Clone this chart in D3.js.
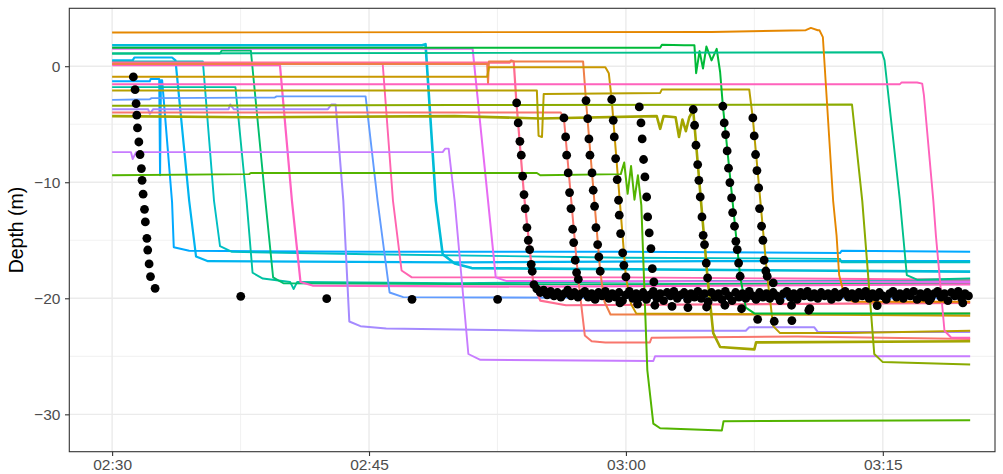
<!DOCTYPE html>
<html><head><meta charset="utf-8">
<script src="https://cdn.jsdelivr.net/npm/d3@7"></script>
<style>
body{margin:0;background:#fff}
svg{display:block;font-family:"Liberation Sans",Arial,Helvetica,sans-serif}
</style>
</head><body>
<svg id="chart" width="1003" height="474"></svg>
<script>
// ---------- axis ticks ----------
const xTickLabels = ["02:30", "02:45", "03:00", "03:15"];
const xMinorLabels = ["02:37:30", "02:52:30", "03:07:30"];
const yTickValues = [-30, -20, -10, 0];
const yMinorValues = [-25, -15, -5];
const yTitle = "Depth (m)";

// ---------- depth traces: [minutes after 02:30, depth m] ----------
const tag01 = [[0,-1.3],[2.2,-1.3],[2.25,-1.1],[2.75,-1.1],[2.8,-9.4],[2.85,-1.2],[2.92,-1.2],[3.5,-11.7],[3.6,-15.6],[4.5,-15.9],[15,-16.0],[30,-16.0],[42.5,-16.1],[42.6,-15.9],[50.1,-16.0]];
const tag02 = [[0,0.5],[1.2,0.5],[1.3,0.75],[3.5,0.75],[3.7,0.5],[4.5,-11.6],[4.9,-16.4],[5.6,-16.8],[20,-16.9],[35,-16.8],[50.1,-16.8]];
const tag03 = [[0,0.4],[5.3,0.4],[5.95,-11.6],[6.3,-15.5],[7.0,-16.0],[15,-16.2],[30,-16.5],[42.5,-16.6],[42.6,-16.9],[50.1,-16.9]];
const tag04 = [[0,-1.8],[7.2,-1.8],[7.85,-11.6],[8.2,-17.8],[8.8,-18.3],[10.4,-18.6],[10.6,-19.2],[10.8,-18.6],[20,-18.7],[35,-18.5],[50.1,-18.5]];
const tag05 = [[0,1.1],[6.3,1.1],[6.4,1.35],[8.1,1.35],[8.95,-11.6],[9.4,-18.2],[10,-18.7],[25,-18.8],[50.1,-18.7]];
const tag06 = [[0,0.1],[9.8,0.1],[10.5,-11.6],[11.0,-18.6],[11.7,-18.9],[25,-19.0],[50.1,-18.8]];
const tag07 = [[0,-3.7],[2.1,-3.7],[2.2,-4.1],[2.4,-3.7],[6.8,-3.7],[6.9,-3.3],[7.1,-3.7],[12.6,-3.7],[12.8,-3.3],[13.05,-3.3],[13.5,-11.6],[13.85,-22.0],[14.5,-22.4],[16,-22.6],[25,-22.8],[37,-22.8],[37.2,-22.5],[41,-22.5],[41.2,-22.9],[50.1,-22.9]];
const tag08 = [[0,-2.9],[2.2,-2.85],[2.3,-2.75],[9.5,-2.7],[9.6,-2.6],[14.8,-2.6],[15.5,-11.6],[16.2,-19.5],[17,-19.9],[35,-20.0],[50.1,-20.0]];
const tag09 = [[0,0.2],[15.8,0.2],[16.4,-11.6],[16.9,-17.6],[17.5,-18.2],[30,-18.2],[50.1,-18.4]];
const tag10 = [[0,1.8],[18.1,1.8],[18.3,1.9],[18.9,-11.6],[19.3,-16.2],[20,-17.0],[21,-17.4],[40,-17.6],[50.1,-17.7]];
const tag11 = [[0,-7.4],[1.1,-7.4],[1.2,-8.0],[1.4,-7.4],[19.3,-7.4],[19.45,-7.1],[19.65,-7.1],[20.0,-11.6],[20.8,-24.8],[21.5,-25.3],[31.6,-25.4],[31.7,-25.0],[50.1,-25.0]];
const tag12 = [[0,1.5],[21.05,1.5],[21.95,-11.6],[22.4,-18.2],[23,-18.5],[50.1,-18.6]];
const tag13 = [[0,0.3],[23.2,0.3],[23.3,0.5],[23.45,0.4],[23.6,-3.0],[24.05,-11.1],[24.6,-18.8],[25.0,-20.2],[26.5,-20.6],[50.1,-20.4]];
const tag14 = [[0,-4.0],[26.2,-4.0],[26.38,-4.5],[27.22,-18.4],[27.6,-23.2],[28.0,-23.7],[28.8,-23.8],[31.4,-23.8],[31.5,-23.4],[40,-23.3],[50.1,-23.5]];
const tag15 = [[0,0.2],[21.9,0.2],[21.95,-1.5],[22.0,0.4],[27.5,0.4],[27.67,-3.0],[28.5,-17.7],[28.75,-20.3],[29.1,-21.4],[40,-21.4],[50.1,-21.3]];
const tag16 = [[0,-0.9],[21.9,-0.9],[22.0,-0.1],[28.8,-0.1],[29.0,-0.6],[29.17,-2.9],[30.0,-18.2],[30.3,-20.5],[30.6,-21.3],[40,-21.4],[50.1,-21.5]];
const tag17 = [[0,-2.1],[24.8,-2.1],[24.9,-6.0],[25.1,-6.1],[25.2,-2.4],[32,-2.3],[32.1,-2.0],[37.2,-2.0],[37.41,-4.5],[38.25,-18.1],[38.6,-22.4],[39.0,-23.0],[43,-23.0],[50.1,-22.8]];
const tag18 = [[0,-4.3],[8,-4.4],[20,-4.3],[25,-4.5],[31.8,-4.3],[32.0,-5.4],[32.2,-4.3],[32.9,-4.4],[33.1,-6.1],[33.3,-4.6],[33.5,-5.6],[33.7,-4.4],[33.93,-3.8],[34.77,-18.3],[35.1,-23.0],[35.5,-24.2],[37.5,-24.4],[37.6,-23.8],[50.1,-23.7]];
const tag19 = [[0,-3.4],[20,-3.35],[43.2,-3.3],[43.8,-11.6],[44.5,-24.8],[45,-25.5],[50.1,-25.7]];
const tag20 = [[0,-9.4],[8,-9.3],[8.1,-9.2],[24.8,-9.2],[25,-9.4],[29.7,-9.3],[29.9,-8.3],[30.1,-11.0],[30.3,-8.6],[30.5,-11.5],[30.7,-9.4],[30.9,-12],[31.25,-26.2],[31.6,-30.8],[32.0,-31.2],[35.6,-31.4],[35.7,-30.6],[50.1,-30.5]];
const tag21 = [[0,1.6],[32.0,1.6],[32.1,1.85],[33.4,1.8],[34.0,1.8],[34.1,-0.6],[34.3,1.3],[34.5,-0.2],[34.7,1.7],[35.0,0.5],[35.3,1.5],[35.5,-0.5],[35.66,-3.4],[36.67,-18.1],[37.0,-20.8],[37.5,-21.3],[50.1,-21.3]];
const tag22 = [[0,1.1],[44.95,1.2],[45.1,0.5],[46.0,-11.6],[46.2,-14.8],[46.4,-18.0],[47.0,-18.4],[50.1,-18.3]];
const tag23 = [[0,-1.55],[46.0,-1.55],[46.1,-1.4],[47.0,-1.4],[47.3,-1.5],[47.4,-2.5],[47.95,-11.6],[48.1,-14.6],[48.6,-22.8],[49.0,-23.4],[50.1,-23.4]];
const tag24 = [[0,2.9],[35,2.95],[40.5,3.1],[40.8,3.3],[41.2,3.1],[41.3,3.1],[41.5,2.5],[42.1,-11.6],[42.3,-14.6],[42.45,-18.0],[42.8,-20.0],[43.3,-20.3],[50.1,-20.3]];

const tagNames = ["T01","T02","T03","T04","T05","T06","T07","T08","T09","T10","T11","T12","T13","T14","T15","T16","T17","T18","T19","T20","T21","T22","T23","T24"];
const tagSeries = [tag01,tag02,tag03,tag04,tag05,tag06,tag07,tag08,tag09,tag10,tag11,tag12,tag13,tag14,tag15,tag16,tag17,tag18,tag19,tag20,tag21,tag22,tag23,tag24];

// ---------- reference depth points (black dots) ----------
const dotsDrop1 = [[1.24,-0.92],[1.34,-2.01],[1.40,-3.22],[1.44,-4.22],[1.48,-5.32],[1.56,-6.53],[1.63,-7.61],[1.71,-8.82],[1.75,-9.83],[1.81,-11.03],[1.89,-12.33],[1.94,-13.42],[2.03,-14.83],[2.08,-15.84],[2.16,-17.04],[2.24,-18.13],[2.51,-19.14]];
const dotsSparse = [[7.51,-19.83],[12.53,-20.03],[17.51,-20.09],[22.51,-20.09]];
const dotsDrop2 = [[23.62,-3.16],[23.71,-4.89],[23.81,-6.47],[23.89,-7.67],[23.97,-9.48],[24.05,-11.06],[24.12,-12.27],[24.22,-13.91],[24.30,-15.0],[24.38,-15.8],[24.47,-17.07],[24.53,-17.67],[24.63,-18.82]];
const dotsDrop3 = [[26.38,-4.46],[26.48,-6.09],[26.54,-7.67],[26.63,-9.2],[26.71,-10.89],[26.79,-12.27],[26.89,-14.05],[26.95,-15.2],[27.04,-16.72],[27.12,-17.78],[27.22,-18.36]];
const dotsDrop4 = [[27.67,-2.96],[27.77,-4.51],[27.84,-6.27],[27.90,-7.67],[28.02,-9.2],[28.09,-10.69],[28.17,-12.07],[28.25,-13.91],[28.35,-15.37],[28.42,-16.44],[28.50,-17.67]];
const dotsDrop5 = [[29.17,-2.87],[29.26,-4.66],[29.32,-6.09],[29.40,-7.96],[29.49,-9.77],[29.57,-11.55],[29.61,-12.84],[29.69,-14.42],[29.81,-16.09],[29.88,-17.16],[30.0,-18.16]];
const dotsDrop6 = [[30.78,-3.51],[30.88,-4.89],[30.95,-6.27],[31.03,-8.04],[31.11,-9.54],[31.21,-11.27],[31.27,-12.99],[31.36,-14.37],[31.46,-15.72],[31.54,-17.44],[31.63,-18.59]];
const dotsDrop7 = [[33.93,-3.73],[34.01,-5.09],[34.09,-6.81],[34.19,-8.48],[34.26,-9.83],[34.34,-11.27],[34.44,-12.99],[34.51,-14.57],[34.59,-15.37],[34.69,-16.96],[34.77,-18.25]];
const dotsDrop8 = [[35.66,-3.45],[35.74,-4.89],[35.82,-5.89],[35.91,-7.3],[35.99,-8.79],[36.07,-10.03],[36.17,-11.35],[36.23,-12.61],[36.34,-13.79],[36.42,-15.09],[36.5,-15.8],[36.58,-16.96],[36.67,-18.1]];
const dotsDrop9 = [[37.41,-4.46],[37.49,-6.01],[37.57,-7.61],[37.65,-8.99],[37.75,-10.49],[37.80,-12.27],[37.92,-13.79],[38.0,-15.0],[38.07,-16.72],[38.17,-17.65],[38.25,-18.1],[38.6,-18.68]];
const dotsLow = [[37.69,-21.81],[38.66,-21.98],[39.69,-21.92],[40.68,-21.03],[44.67,-20.63],[29.65,-20.4],[30.68,-20.5],[31.69,-20.6],[32.69,-20.7],[33.62,-20.8],[34.71,-20.75],[35.78,-20.6],[36.75,-20.9],[39.67,-20.6],[40.74,-20.9],[47.7,-20.2],[49.67,-20.4]];
const dotsBottom = [
[24.8,-19.2],[25.0,-19.5],[25.2,-19.3],[25.4,-19.7],[25.6,-19.4],[25.8,-19.8],[26.0,-19.5],[26.2,-19.9],[26.4,-19.6],[26.6,-19.3],
[26.8,-19.8],[27.0,-19.5],[27.2,-19.9],[27.4,-19.6],[27.6,-19.4],[27.8,-19.9],[28.0,-19.6],[28.2,-20.1],[28.4,-19.5],[28.6,-19.8],
[28.8,-19.4],[29.0,-20.0],[29.2,-19.6],[29.4,-19.9],[29.6,-19.5],[29.8,-20.2],[30.0,-19.7],[30.2,-19.4],[30.4,-20.0],[30.6,-19.6],
[30.8,-19.9],[31.0,-19.5],[31.2,-20.1],[31.4,-19.7],[31.6,-19.4],[31.8,-20.0],[32.0,-19.6],[32.2,-20.2],[32.4,-19.5],[32.6,-19.8],
[32.8,-19.4],[33.0,-20.0],[33.2,-19.7],[33.4,-19.5],[33.6,-20.1],[33.8,-19.6],[34.0,-19.9],[34.2,-19.4],[34.4,-20.0],[34.6,-19.6],
[34.8,-20.3],[35.0,-19.5],[35.2,-19.9],[35.4,-19.6],[35.6,-20.1],[35.8,-19.4],[36.0,-19.8],[36.2,-20.2],[36.4,-19.5],[36.6,-19.9],
[36.8,-19.6],[37.0,-20.0],[37.2,-19.4],[37.4,-19.8],[37.6,-20.1],[37.8,-19.5],[38.0,-19.9],[38.2,-19.6],[38.4,-20.0],[38.6,-19.5],
[38.8,-19.8],[39.0,-20.2],[39.2,-19.6],[39.4,-19.4],[39.6,-19.9],[39.8,-19.6],[40.0,-20.1],[40.2,-19.5],[40.4,-19.8],[40.6,-19.4],
[40.8,-19.9],[41.0,-19.6],[41.2,-20.0],[41.4,-19.5],[41.6,-19.8],[41.8,-19.6],[42.0,-20.1],[42.2,-19.5],[42.4,-19.9],[42.6,-19.6],
[42.8,-19.4],[43.0,-19.9],[43.2,-19.6],[43.4,-20.0],[43.6,-19.5],[43.8,-19.8],[44.0,-19.4],[44.2,-20.0],[44.4,-19.6],[44.6,-19.9],
[44.8,-19.5],[45.0,-19.8],[45.2,-20.1],[45.4,-19.6],[45.6,-19.4],[45.8,-19.9],[46.0,-19.6],[46.2,-20.0],[46.4,-19.5],[46.6,-19.8],
[46.8,-19.4],[47.0,-20.1],[47.2,-19.6],[47.4,-19.9],[47.6,-19.5],[47.8,-20.0],[48.0,-19.6],[48.2,-19.4],[48.4,-19.9],[48.6,-19.6],
[48.8,-20.2],[49.0,-19.5],[49.2,-19.8],[49.4,-19.4],[49.6,-20.0],[49.8,-19.6],[50.0,-19.8]];

// ---------- styles (kept separate from data) ----------
const tagColors = ["#00A9FF","#00B4F0","#00BFC4","#00C1A3","#00BE6C","#FF61C3","#A58AFF","#619CFF","#FF64B0","#00BCD8","#C77CFF","#E76BF3",
                   "#FF6C91","#F8766D","#EF7F49","#C99800","#B79F00","#A3A500","#8AAB00","#53B400","#00BA38","#00C08B","#FF62BC","#E58700"];
const tagWidths = [2.0,2.2,1.9,1.9,1.9,2.2,2.0,1.9,1.9,2.6,1.9,2.0,2.2,2.0,2.0,2.0,2.0,2.6,2.0,2.0,2.0,1.9,1.9,1.9];

// ---------- build chart ----------
const base = Date.UTC(2021, 0, 1, 2, 30, 0);
const toDate = m => new Date(base + m * 60000);
const parseHMS = s => { const p = s.split(":").map(Number); return new Date(Date.UTC(2021,0,1,p[0],p[1],p[2]||0)); };

const pl = 69.3, pr = 995, pt = 8.3, pb = 451.7;
const x = d3.scaleUtc().domain([toDate(-2.5), toDate(51.55)]).range([pl, pr]);
const y = d3.scaleLinear().domain([-33.22, 4.99]).range([pb, pt]);
const color = d3.scaleOrdinal().domain(tagNames).range(tagColors);

const svg = d3.select("#chart");
svg.append("rect").attr("width", 1003).attr("height", 474).attr("fill", "#fff");

const grid = svg.append("g");
grid.selectAll(".mx").data(xMinorLabels.map(parseHMS)).join("line")
  .attr("x1", d => x(d)).attr("x2", d => x(d)).attr("y1", pt).attr("y2", pb)
  .attr("stroke", "#EBEBEB").attr("stroke-width", 0.7);
grid.selectAll(".my").data(yMinorValues).join("line")
  .attr("x1", pl).attr("x2", pr).attr("y1", d => y(d)).attr("y2", d => y(d))
  .attr("stroke", "#EBEBEB").attr("stroke-width", 0.7);
const xTickDates = xTickLabels.map(parseHMS);
grid.selectAll(".Mx").data(xTickDates).join("line")
  .attr("x1", d => x(d)).attr("x2", d => x(d)).attr("y1", pt).attr("y2", pb)
  .attr("stroke", "#EBEBEB").attr("stroke-width", 1.4);
grid.selectAll(".My").data(yTickValues).join("line")
  .attr("x1", pl).attr("x2", pr).attr("y1", d => y(d)).attr("y2", d => y(d))
  .attr("stroke", "#EBEBEB").attr("stroke-width", 1.4);

const line = d3.line().x(d => x(toDate(d[0]))).y(d => y(d[1]));
const series = tagNames.map((n, i) => ({ name: n, values: tagSeries[i], w: tagWidths[i] }));
svg.append("g").selectAll("path").data(series).join("path")
  .attr("d", d => line(d.values))
  .attr("fill", "none")
  .attr("stroke", d => color(d.name))
  .attr("stroke-width", d => d.w)
  .attr("stroke-linejoin", "round");

const allDots = [].concat(dotsDrop1, dotsSparse, dotsDrop2, dotsDrop3, dotsDrop4, dotsDrop5, dotsDrop6, dotsDrop7, dotsDrop8, dotsDrop9, dotsBottom, dotsLow);
svg.append("g").selectAll("circle").data(allDots).join("circle")
  .attr("cx", d => x(toDate(d[0]))).attr("cy", d => y(d[1])).attr("r", 4.4)
  .attr("fill", "#000");

svg.append("rect").attr("x", pl).attr("y", pt).attr("width", pr - pl).attr("height", pb - pt)
  .attr("fill", "none").attr("stroke", "#333333").attr("stroke-width", 1.1);

const fmtY = d => d < 0 ? "\u2212" + Math.abs(d) : String(d);
const yAxis = svg.append("g").attr("transform", `translate(${pl},0)`)
  .call(d3.axisLeft(y).tickValues(yTickValues).tickFormat(fmtY).tickSize(4.3).tickPadding(4.6));
const xAxis = svg.append("g").attr("transform", `translate(0,${pb})`)
  .call(d3.axisBottom(x).tickValues(xTickDates).tickFormat(d3.utcFormat("%H:%M")).tickSize(4.3).tickPadding(3.4));
[yAxis, xAxis].forEach(a => {
  a.select(".domain").remove();
  a.selectAll(".tick line").attr("stroke", "#333333").attr("stroke-width", 1.1);
  a.selectAll(".tick text").attr("fill", "#4D4D4D").style("font-size", "15.5px")
    .style("font-family", '"Liberation Sans", Arial, sans-serif');
});

svg.append("text")
  .attr("transform", `translate(23,${(pt + pb) / 2}) rotate(-90)`)
  .attr("text-anchor", "middle")
  .style("font-size", "19.5px").attr("fill", "#000")
  .text(yTitle);
</script>
</body></html>
